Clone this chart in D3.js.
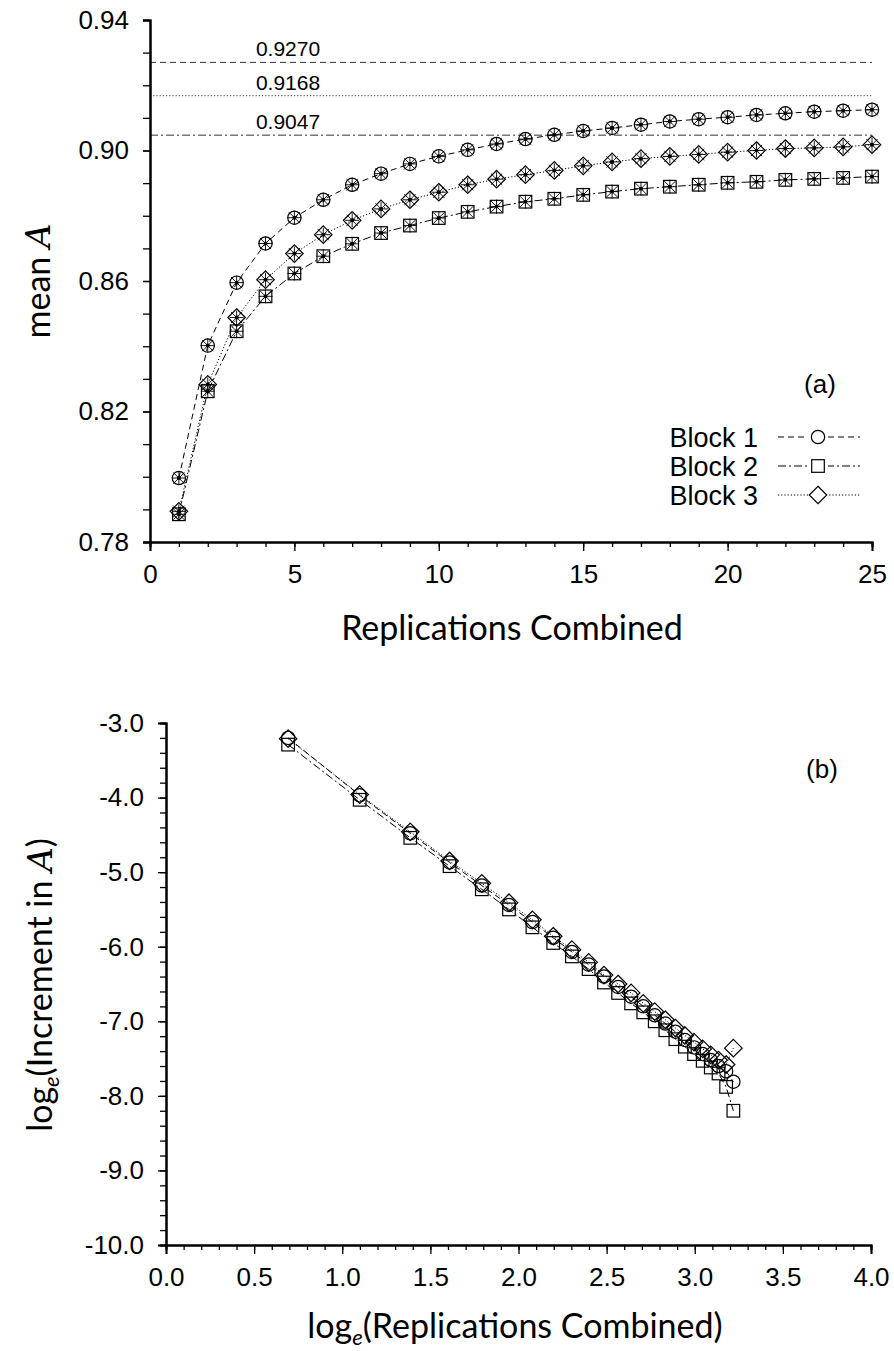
<!DOCTYPE html>
<html>
<head>
<meta charset="utf-8">
<script src="https://cdn.jsdelivr.net/npm/d3@7"></script>
<style>
  body { margin: 0; background: #fff; }
  svg text { font-family: "Liberation Sans", Arial, sans-serif; fill: #000; }
  .title { font-family: Lato, "Open Sans", sans-serif; }
</style>
</head>
<body>
<div id="chart"></div>
<script>
// ---- data ----
let reps = [1, 2, 3, 4, 5, 6, 7, 8, 9, 10, 11, 12, 13, 14, 15, 16, 17, 18, 19, 20, 21, 22, 23, 24, 25];
let block1Mean = [0.7996, 0.8402, 0.8595, 0.8715, 0.8794, 0.8849, 0.8895, 0.8929, 0.8959, 0.8982,
                  0.9002, 0.9020, 0.9035, 0.9048, 0.9060, 0.9069, 0.9079, 0.9089, 0.9096, 0.9102,
                  0.9109, 0.9114, 0.9119, 0.9122, 0.9125];
let block2Mean = [0.7885, 0.8262, 0.8446, 0.8553, 0.8623, 0.8676, 0.8714, 0.8747, 0.8770, 0.8793,
                  0.8812, 0.8828, 0.8843, 0.8852, 0.8864, 0.8874, 0.8883, 0.8889, 0.8895, 0.8901,
                  0.8904, 0.8910, 0.8913, 0.8916, 0.8920];
let block3Mean = [0.7894, 0.8283, 0.8488, 0.8604, 0.8684, 0.8742, 0.8786, 0.8821, 0.8849, 0.8872,
                  0.8895, 0.8912, 0.8926, 0.8939, 0.8953, 0.8965, 0.8975, 0.8982, 0.8988, 0.8995,
                  0.9000, 0.9006, 0.9008, 0.9011, 0.9018];
let limitValues = [0.9270, 0.9168, 0.9047];
let limitLabels = ["0.9270", "0.9168", "0.9047"];
let meanTicks = [0.78, 0.82, 0.86, 0.90, 0.94];
let repTicks = [0, 5, 10, 15, 20, 25];

let logReps = [0.693, 1.099, 1.386, 1.609, 1.792, 1.946, 2.079, 2.197, 2.303, 2.398, 2.485, 2.565,
               2.639, 2.708, 2.773, 2.833, 2.890, 2.944, 2.996, 3.045, 3.091, 3.135, 3.178, 3.219];
let block1LogInc = [-3.20, -3.97, -4.48, -4.87, -5.18, -5.44, -5.67, -5.88, -6.07, -6.24, -6.40, -6.54,
                    -6.67, -6.80, -6.92, -7.03, -7.14, -7.25, -7.35, -7.44, -7.52, -7.60, -7.67, -7.81];
let block2LogInc = [-3.29, -4.03, -4.54, -4.92, -5.23, -5.50, -5.74, -5.95, -6.13, -6.30, -6.48, -6.62,
                    -6.76, -6.88, -7.00, -7.12, -7.24, -7.34, -7.44, -7.53, -7.62, -7.70, -7.88, -8.20];
let block3LogInc = [-3.21, -3.96, -4.46, -4.85, -5.15, -5.41, -5.64, -5.86, -6.04, -6.21, -6.38, -6.50,
                    -6.62, -6.76, -6.87, -6.98, -7.09, -7.19, -7.28, -7.37, -7.45, -7.52, -7.58, -7.36];
let logIncTicks = [-3, -4, -5, -6, -7, -8, -9, -10];
let logRepTicks = [0, 0.5, 1, 1.5, 2, 2.5, 3, 3.5, 4];

let blocks = ["Block 1", "Block 2", "Block 3"];
let shapes = ["circle", "square", "diamond"];
let dashes = ["6,4", "8,3,2,3", "1.2,2"];

// ---- svg ----
let svg = d3.select("#chart")
    .append("svg")
    .attr("width", 894)
    .attr("height", 1351);

function drawMarker(g, shape, cx, cy, s, star) {
    let m = g.append("g").attr("transform", "translate(" + cx + "," + cy + ")");
    if (shape == "circle") {
        m.append("circle").attr("r", s * 0.95).attr("fill", "none").attr("stroke", "#000").attr("stroke-width", 1.2);
    } else if (shape == "square") {
        m.append("rect").attr("x", -s * 0.9).attr("y", -s * 0.9).attr("width", s * 1.8).attr("height", s * 1.8)
            .attr("fill", "none").attr("stroke", "#000").attr("stroke-width", 1.2);
    } else {
        let d = s * 1.25;
        m.append("path").attr("d", "M0," + (-d) + "L" + d + ",0L0," + d + "L" + (-d) + ",0Z")
            .attr("fill", "none").attr("stroke", "#000").attr("stroke-width", 1.2);
    }
    if (star) {
        let a = s * 0.8;
        m.append("path")
            .attr("d", "M" + (-a) + "," + (-a) + "L" + a + "," + a + "M" + (-a) + "," + a + "L" + a + "," + (-a) +
                "M0," + (-s) + "L0," + s + "M" + (-s) + ",0L" + s + ",0")
            .attr("stroke", "#000").attr("stroke-width", 0.9);
        m.append("circle").attr("r", 2).attr("fill", "#000");
    }
}

function styleAxis(g, w) {
    g.select(".domain").attr("stroke-width", w);
    g.selectAll(".tick line").attr("stroke-width", 1.3);
    g.selectAll("text").style("font-size", "26px").style("font-family", "Liberation Sans, Arial, sans-serif");
}

// ================= panel (a) =================
let xA = d3.scaleLinear().domain([0, 25]).range([150, 872]);
let yA = d3.scaleLinear().domain([0.78, 0.94]).range([542, 20]);

let pa = svg.append("g");

// limit lines
let limitDash = ["6,4", "1.2,2", "8,3,2,3"];
limitValues.forEach(function (v, i) {
    pa.append("line")
        .attr("x1", xA(0)).attr("x2", xA(25))
        .attr("y1", yA(v)).attr("y2", yA(v))
        .attr("stroke", "#333").attr("stroke-width", 1)
        .attr("stroke-dasharray", limitDash[i]);
    pa.append("text")
        .attr("x", 288).attr("y", yA(v) - 6)
        .attr("text-anchor", "middle")
        .style("font-size", "21px")
        .text(limitLabels[i]);
});

// axes
let yAxisA = pa.append("g").attr("transform", "translate(150,0)")
    .call(d3.axisLeft(yA).tickValues(d3.range(0.78, 0.9401, 0.01)).tickSize(7).tickFormat(""));
styleAxis(yAxisA, 2);
let yLabA = pa.append("g").attr("transform", "translate(150,0)")
    .call(d3.axisLeft(yA).tickValues(meanTicks).tickSize(7).tickPadding(14).tickFormat(d3.format(".2f")));
styleAxis(yLabA, 2);

let xAxisA = pa.append("g").attr("transform", "translate(0,542)")
    .call(d3.axisBottom(xA).ticks(25).tickSize(5).tickFormat(""));
styleAxis(xAxisA, 2);
let xLabA = pa.append("g").attr("transform", "translate(0,542)")
    .call(d3.axisBottom(xA).tickValues(repTicks).tickSize(9).tickPadding(14));
styleAxis(xLabA, 2);

pa.append("text").attr("class", "title")
    .attr("x", 512).attr("y", 640)
    .attr("text-anchor", "middle")
    .style("font-size", "34px")
    .text("Replications Combined");

let ytA = pa.append("text").attr("class", "title")
    .attr("transform", "translate(50,281) rotate(-90)")
    .attr("text-anchor", "middle")
    .style("font-size", "34px");
ytA.append("tspan").text("mean ");
ytA.append("tspan").style("font-family", "DejaVu Serif, serif").style("font-style", "italic").text("A");

// series
let meanSeries = [block1Mean, block2Mean, block3Mean];
meanSeries.forEach(function (vals, i) {
    let line = d3.line().x(function (d, j) { return xA(reps[j]); }).y(function (d) { return yA(d); });
    pa.append("path").datum(vals)
        .attr("d", line)
        .attr("fill", "none").attr("stroke", "#000").attr("stroke-width", 1)
        .attr("stroke-dasharray", dashes[i]);
});
meanSeries.forEach(function (vals, i) {
    vals.forEach(function (v, j) {
        drawMarker(pa, shapes[i], xA(reps[j]), yA(v), 7, true);
    });
});

// label + legend
pa.append("text").attr("x", 820).attr("y", 393).attr("text-anchor", "middle")
    .style("font-size", "26px").text("(a)");

blocks.forEach(function (b, i) {
    let ly = 437 + i * 29;
    pa.append("text").attr("x", 758).attr("y", ly + 10).attr("text-anchor", "end")
        .style("font-size", "27px").text(b);
    pa.append("line").attr("x1", 778).attr("x2", 860).attr("y1", ly).attr("y2", ly)
        .attr("stroke", "#000").attr("stroke-width", 1).attr("stroke-dasharray", dashes[i]);
    let lg = pa.append("g");
    lg.append("rect").attr("x", 808).attr("y", ly - 9).attr("width", 20).attr("height", 18).attr("fill", "#fff");
    drawMarker(lg, shapes[i], 818, ly, 7, false);
});

// ================= panel (b) =================
let xB = d3.scaleLinear().domain([0, 4]).range([166, 871]);
let yB = d3.scaleLinear().domain([-10, -3]).range([1245, 723]);

let pb = svg.append("g");

let yAxisB = pb.append("g").attr("transform", "translate(166,0)")
    .call(d3.axisLeft(yB).tickValues(d3.range(-10, -2.99, 0.2)).tickSize(6).tickFormat(""));
styleAxis(yAxisB, 2);
let yLabB = pb.append("g").attr("transform", "translate(166,0)")
    .call(d3.axisLeft(yB).tickValues(logIncTicks).tickSize(8).tickPadding(14)
        .tickFormat(function (d) { return d.toFixed(1); }));
styleAxis(yLabB, 2);

let xAxisB = pb.append("g").attr("transform", "translate(0,1245)")
    .call(d3.axisBottom(xB).tickValues(d3.range(0, 4.001, 0.1)).tickSize(5).tickFormat(""));
styleAxis(xAxisB, 2);
let xLabB = pb.append("g").attr("transform", "translate(0,1245)")
    .call(d3.axisBottom(xB).tickValues(logRepTicks).tickSize(9).tickPadding(14)
        .tickFormat(function (d) { return d.toFixed(1); }));
styleAxis(xLabB, 2);

let xtB = pb.append("text").attr("class", "title")
    .attr("x", 515).attr("y", 1338)
    .attr("text-anchor", "middle")
    .style("font-size", "34px");
xtB.append("tspan").text("log");
xtB.append("tspan").attr("dy", 7).style("font-size", "22px").style("font-style", "italic").text("e");
xtB.append("tspan").attr("dy", -7).text("(Replications Combined)");

let ytB = pb.append("text").attr("class", "title")
    .attr("transform", "translate(52,985) rotate(-90)")
    .attr("text-anchor", "middle")
    .style("font-size", "34px");
ytB.append("tspan").text("log");
ytB.append("tspan").attr("dy", 7).style("font-size", "22px").style("font-style", "italic").text("e");
ytB.append("tspan").attr("dy", -7).text("(Increment in ");
ytB.append("tspan").style("font-family", "DejaVu Serif, serif").style("font-style", "italic").text("A");
ytB.append("tspan").text(")");

let incSeries = [block1LogInc, block2LogInc, block3LogInc];
incSeries.forEach(function (vals, i) {
    let line = d3.line().x(function (d, j) { return xB(logReps[j]); }).y(function (d) { return yB(d); });
    pb.append("path").datum(vals)
        .attr("d", line)
        .attr("fill", "none").attr("stroke", "#000").attr("stroke-width", 1)
        .attr("stroke-dasharray", dashes[i]);
});
incSeries.forEach(function (vals, i) {
    vals.forEach(function (v, j) {
        drawMarker(pb, shapes[i], xB(logReps[j]), yB(v), 7, false);
    });
});

pb.append("text").attr("x", 822).attr("y", 778).attr("text-anchor", "middle")
    .style("font-size", "26px").text("(b)");
</script>
</body>
</html>
